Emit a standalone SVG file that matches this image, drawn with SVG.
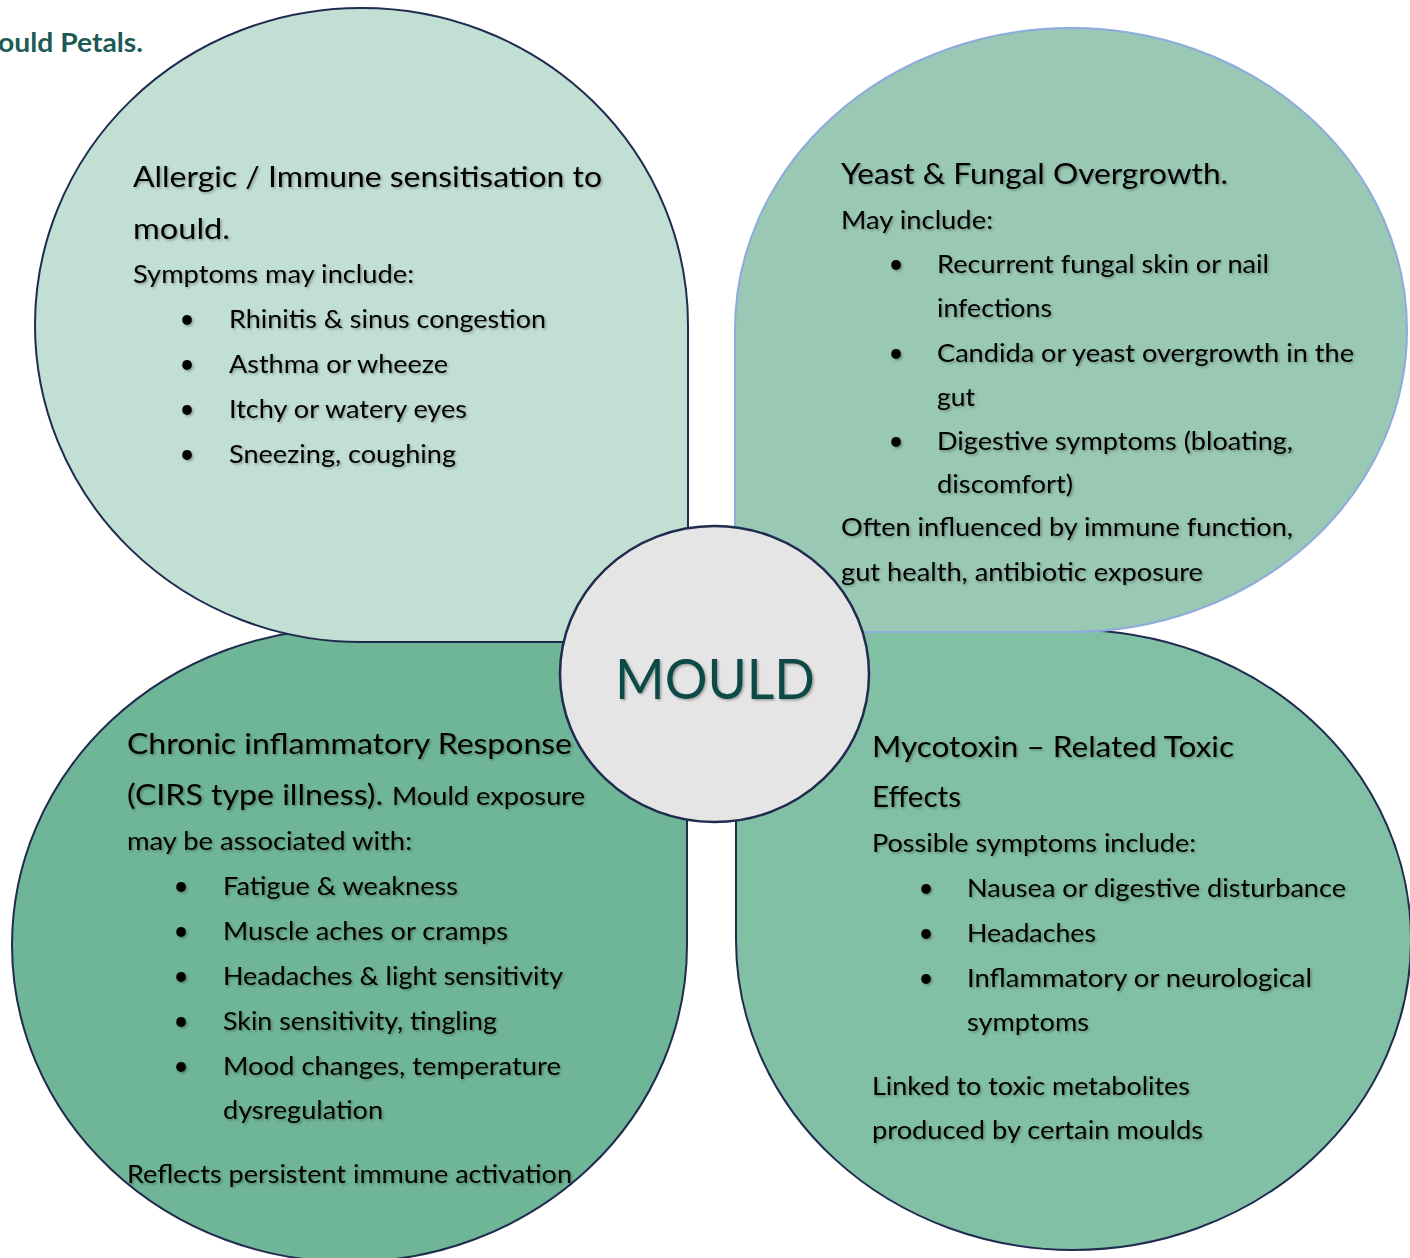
<svg xmlns="http://www.w3.org/2000/svg" width="1410" height="1258" viewBox="0 0 1410 1258">
<defs>
<filter id="sh" x="-5%" y="-30%" width="110%" height="160%">
<feDropShadow dx="1.5" dy="1.5" stdDeviation="1" flood-color="#000" flood-opacity="0.3"/>
</filter>
<style>
text{font-family:Lato,"Open Sans","Liberation Sans",sans-serif;fill:#000;}
.h{font-size:28.5px;}
.b{font-size:25px;}
.u{font-size:26px;text-anchor:middle;}
.petal{stroke:#1f2b4f;stroke-width:2;}
.title{font-size:27px;font-weight:bold;fill:#1c5a55;}
.mould{font-size:57px;fill:#0e4a47;text-anchor:middle;}
</style>
</defs>
<rect width="1410" height="1258" fill="#fff"/>
<text class="title" x="-2" y="52" textLength="145" lengthAdjust="spacingAndGlyphs">ould Petals.</text>

<g id="petal-bl">
<path class="petal" fill="#6fb597" d="M 687 628 L 687 945 A 338 317 0 0 1 350 1262 A 338 317 0 0 1 12 945 A 338 317 0 0 1 350 628 Z"/>
</g>
<g id="petal-br">
<path class="petal" fill="#82c0a5" d="M 736 630 L 1073 630 A 338 310 0 0 1 1411 940 A 338 310 0 0 1 1073 1250 A 338 310 0 0 1 736 940 Z"/>
</g>
<g id="petal-tl">
<path class="petal" fill="#c2dfd4" d="M 688 325 A 326 317 0 0 0 361 8 A 326 317 0 0 0 35 325 A 326 317 0 0 0 361 642 L 688 642 Z"/>
</g>
<g id="petal-tr">
<path fill="#99c8b4" stroke="#8faadc" stroke-width="2" d="M 735 632 L 735 330 A 336 302 0 0 1 1071 28 A 336 302 0 0 1 1407 330 A 336 302 0 0 1 1071 632 Z"/>
</g>

<g id="center">
<ellipse cx="714.5" cy="674" rx="154.5" ry="148" fill="#e5e5e5" stroke="#1f2b4f" stroke-width="2.5"/>
<text class="mould" x="715" y="699" textLength="200" lengthAdjust="spacingAndGlyphs" filter="url(#sh)">MOULD</text>
</g>

<g id="text-tl" filter="url(#sh)">
<text class="h" x="133" y="187" textLength="469" lengthAdjust="spacingAndGlyphs">Allergic / Immune sensitisation to</text>
<text class="h" x="133" y="239" textLength="97" lengthAdjust="spacingAndGlyphs">mould.</text>
<text class="b" x="133" y="283" textLength="281" lengthAdjust="spacingAndGlyphs">Symptoms may include:</text>
<text class="u" x="187" y="328">•</text>
<text class="b" x="229" y="328" textLength="317" lengthAdjust="spacingAndGlyphs">Rhinitis &amp; sinus congestion</text>
<text class="u" x="187" y="373">•</text>
<text class="b" x="229" y="373" textLength="219" lengthAdjust="spacingAndGlyphs">Asthma or wheeze</text>
<text class="u" x="187" y="418">•</text>
<text class="b" x="229" y="418" textLength="238" lengthAdjust="spacingAndGlyphs">Itchy or watery eyes</text>
<text class="u" x="187" y="463">•</text>
<text class="b" x="229" y="463" textLength="227" lengthAdjust="spacingAndGlyphs">Sneezing, coughing</text>
</g>

<g id="text-tr" filter="url(#sh)">
<text class="h" x="841" y="184" textLength="387" lengthAdjust="spacingAndGlyphs">Yeast &amp; Fungal Overgrowth.</text>
<text class="b" x="841" y="229" textLength="152" lengthAdjust="spacingAndGlyphs">May include:</text>
<text class="u" x="896" y="273">•</text>
<text class="b" x="937" y="273" textLength="332" lengthAdjust="spacingAndGlyphs">Recurrent fungal skin or nail</text>
<text class="b" x="937" y="317" textLength="115" lengthAdjust="spacingAndGlyphs">infections</text>
<text class="u" x="896" y="362">•</text>
<text class="b" x="937" y="362" textLength="417" lengthAdjust="spacingAndGlyphs">Candida or yeast overgrowth in the</text>
<text class="b" x="937" y="406" textLength="38" lengthAdjust="spacingAndGlyphs">gut</text>
<text class="u" x="896" y="450">•</text>
<text class="b" x="937" y="450" textLength="356" lengthAdjust="spacingAndGlyphs">Digestive symptoms (bloating,</text>
<text class="b" x="937" y="493" textLength="136" lengthAdjust="spacingAndGlyphs">discomfort)</text>
<text class="b" x="841" y="536" textLength="452" lengthAdjust="spacingAndGlyphs">Often influenced by immune function,</text>
<text class="b" x="841" y="581" textLength="362" lengthAdjust="spacingAndGlyphs">gut health, antibiotic exposure</text>
</g>

<g id="text-bl" filter="url(#sh)">
<text class="h" x="127" y="754" textLength="445" lengthAdjust="spacingAndGlyphs">Chronic inflammatory Response</text>
<text class="h" x="127" y="805" textLength="256" lengthAdjust="spacingAndGlyphs">(CIRS type illness).</text>
<text class="b" x="392" y="805" textLength="193" lengthAdjust="spacingAndGlyphs">Mould exposure</text>
<text class="b" x="127" y="850" textLength="285" lengthAdjust="spacingAndGlyphs">may be associated with:</text>
<text class="u" x="181" y="895">•</text>
<text class="b" x="223" y="895" textLength="235" lengthAdjust="spacingAndGlyphs">Fatigue &amp; weakness</text>
<text class="u" x="181" y="940">•</text>
<text class="b" x="223" y="940" textLength="285" lengthAdjust="spacingAndGlyphs">Muscle aches or cramps</text>
<text class="u" x="181" y="985">•</text>
<text class="b" x="223" y="985" textLength="340" lengthAdjust="spacingAndGlyphs">Headaches &amp; light sensitivity</text>
<text class="u" x="181" y="1030">•</text>
<text class="b" x="223" y="1030" textLength="274" lengthAdjust="spacingAndGlyphs">Skin sensitivity, tingling</text>
<text class="u" x="181" y="1075">•</text>
<text class="b" x="223" y="1075" textLength="338" lengthAdjust="spacingAndGlyphs">Mood changes, temperature</text>
<text class="b" x="223" y="1119" textLength="160" lengthAdjust="spacingAndGlyphs">dysregulation</text>
<text class="b" x="127" y="1183" textLength="445" lengthAdjust="spacingAndGlyphs">Reflects persistent immune activation</text>
</g>

<g id="text-br" filter="url(#sh)">
<text class="h" x="872" y="757" textLength="362" lengthAdjust="spacingAndGlyphs">Mycotoxin – Related Toxic</text>
<text class="h" x="872" y="807" textLength="89" lengthAdjust="spacingAndGlyphs">Effects</text>
<text class="b" x="872" y="852" textLength="324" lengthAdjust="spacingAndGlyphs">Possible symptoms include:</text>
<text class="u" x="926" y="897">•</text>
<text class="b" x="967" y="897" textLength="379" lengthAdjust="spacingAndGlyphs">Nausea or digestive disturbance</text>
<text class="u" x="926" y="942">•</text>
<text class="b" x="967" y="942" textLength="129" lengthAdjust="spacingAndGlyphs">Headaches</text>
<text class="u" x="926" y="987">•</text>
<text class="b" x="967" y="987" textLength="345" lengthAdjust="spacingAndGlyphs">Inflammatory or neurological</text>
<text class="b" x="967" y="1031" textLength="122" lengthAdjust="spacingAndGlyphs">symptoms</text>
<text class="b" x="872" y="1095" textLength="318" lengthAdjust="spacingAndGlyphs">Linked to toxic metabolites</text>
<text class="b" x="872" y="1139" textLength="331" lengthAdjust="spacingAndGlyphs">produced by certain moulds</text>
</g>
</svg>
